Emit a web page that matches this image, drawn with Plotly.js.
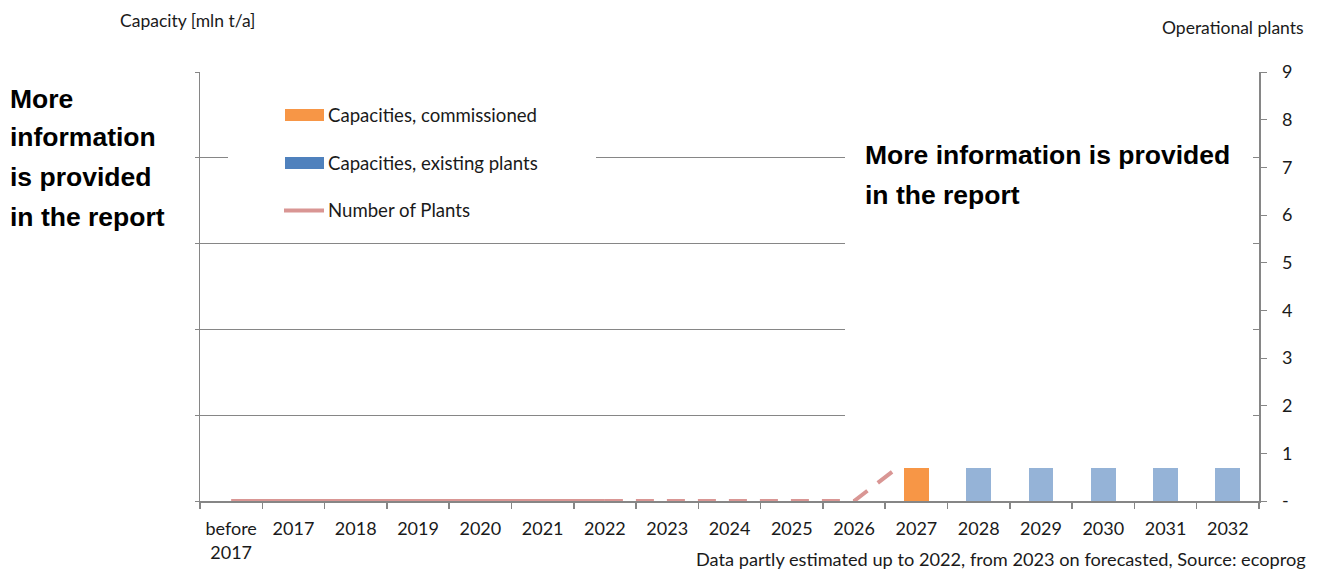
<!DOCTYPE html>
<html>
<head>
<meta charset="utf-8">
<script src="https://cdn.plot.ly/plotly-3.0.1.min.js"></script>
<style>
  html, body { margin: 0; padding: 0; background: #ffffff; }
  #chart { width: 1324px; height: 571px; }
</style>
</head>
<body>
<div id="chart"></div>
<script>
// ---------- data ----------
const categories = ["before<br>2017", "2017", "2018", "2019", "2020", "2021", "2022", "2023", "2024", "2025", "2026", "2027", "2028", "2029", "2030", "2031", "2032"];
const capCommissioned = [null, null, null, null, null, null, null, null, null, null, null, 0.39, null, null, null, null, null];
const capExisting     = [null, null, null, null, null, null, null, null, null, null, null, null, 0.39, 0.39, 0.39, 0.39, 0.39];
const numPlants       = [0, 0, 0, 0, 0, 0, 0, 0, 0, 0, 0, 1, 1, 1, 1, 1, 1];
const lastEstimatedIdx = 6; // 2022
const seriesNames = ["Capacities, commissioned", "Capacities, existing plants", "Number of Plants"];
const rightTickVals = [0, 1, 2, 3, 4, 5, 6, 7, 8, 9];
const rightTickText = ["-", "1", "2", "3", "4", "5", "6", "7", "8", "9"];
const leftAxisTitle = "Capacity [mln t/a]";
const rightAxisTitle = "Operational plants";
const sourceNote = "Data partly estimated up to 2022, from 2023 on forecasted, Source: ecoprog";

// ---------- styles ----------
const W = 1324, H = 571;
const plotL = 200, plotR = 1259, plotT = 72, plotB = 501;
const colOrange = "#F79646";
const colBlueBar = "#95B3D7";
const colBlueLegend = "#4F81BD";
const colLine = "#D99694";
const axisGray = "#868686";
const txt = "#1a1a1a";
const calFont = "Lato, 'Open Sans', sans-serif";
const boldFont = "'Liberation Sans', Arial, sans-serif";

function px(x) { return (x - plotL) / (plotR - plotL); }
function py(y) { return (plotB - y) / (plotB - plotT); }

const histLine = numPlants.map((v, i) => i <= lastEstimatedIdx ? v : null);
const fcLine = numPlants.map((v, i) => i >= lastEstimatedIdx ? v : null);

const traces = [
  { type: "bar", x: categories, y: capCommissioned, name: seriesNames[0],
    marker: { color: colOrange }, yaxis: "y", showlegend: false, hoverinfo: "skip" },
  { type: "bar", x: categories, y: capExisting, name: seriesNames[1],
    marker: { color: colBlueBar }, yaxis: "y", showlegend: false, hoverinfo: "skip" },
  { type: "scatter", mode: "lines", x: categories, y: histLine, name: seriesNames[2],
    line: { color: colLine, width: 4 }, yaxis: "y2", showlegend: false, connectgaps: false, hoverinfo: "skip" },
  { type: "scatter", mode: "lines", x: categories, y: fcLine, name: seriesNames[2] + " (forecast)",
    line: { color: colLine, width: 4, dash: "18px,13px" }, yaxis: "y2", showlegend: false, connectgaps: false, hoverinfo: "skip" }
];

const shapes = [
  // mask behind right info text
  { type: "rect", xref: "paper", yref: "paper", layer: "above",
    x0: px(845), x1: px(1253), y0: py(467), y1: py(140),
    fillcolor: "#ffffff", line: { width: 0 } },
  // mask behind legend
  { type: "rect", xref: "paper", yref: "paper", layer: "above",
    x0: px(228), x1: px(596), y0: py(232), y1: py(95),
    fillcolor: "#ffffff", line: { width: 0 } },
  // legend symbols
  { type: "rect", xref: "paper", yref: "paper", layer: "above",
    x0: px(285), x1: px(324), y0: py(121), y1: py(109),
    fillcolor: colOrange, line: { width: 0 } },
  { type: "rect", xref: "paper", yref: "paper", layer: "above",
    x0: px(285), x1: px(324), y0: py(169), y1: py(157),
    fillcolor: colBlueLegend, line: { width: 0 } },
  { type: "line", xref: "paper", yref: "paper", layer: "above",
    x0: px(284), x1: px(324), y0: py(210.5), y1: py(210.5),
    line: { color: colLine, width: 4 } }
];

const ann = [];
function addText(text, x, y, xanchor, size, family, color) {
  ann.push({ text: text, xref: "paper", yref: "paper", x: px(x), y: py(y),
    xanchor: xanchor, yanchor: "middle", showarrow: false,
    font: { family: family, size: size, color: color } });
}
// legend labels
addText(seriesNames[0], 326, 115, "left", 18.6, calFont, txt);
addText(seriesNames[1], 326, 163, "left", 18.6, calFont, txt);
addText(seriesNames[2], 326, 210, "left", 18.6, calFont, txt);
// axis titles and source
addText(leftAxisTitle, 118, 21, "left", 17.5, calFont, txt);
addText(rightAxisTitle, 1306, 27, "right", 17.5, calFont, txt);
addText(sourceNote, 1308, 559, "right", 18.2, calFont, txt);
// info texts
const leftLines = ["More", "information", "is provided", "in the report"];
const leftYs = [99, 137, 177, 217];
leftLines.forEach((t, i) => addText("<b>" + t + "</b>", 8, leftYs[i], "left", 26.5, boldFont, "#000"));
const rightLines = ["More information is provided", "in the report"];
const rightYs = [155, 195];
rightLines.forEach((t, i) => addText("<b>" + t + "</b>", 863, rightYs[i], "left", 26.5, boldFont, "#000"));

const layout = {
  width: W, height: H,
  margin: { l: plotL, r: W - plotR, t: plotT, b: H - plotB, pad: 0 },
  paper_bgcolor: "#ffffff", plot_bgcolor: "#ffffff",
  barmode: "stack", bargap: 0.6,
  showlegend: false,
  font: { family: calFont, size: 18, color: txt },
  xaxis: {
    type: "category", categoryorder: "array", categoryarray: categories,
    showline: true, linecolor: axisGray, linewidth: 1.5, mirror: false,
    ticks: "outside", tickson: "boundaries", ticklen: 6, tickcolor: axisGray, tickwidth: 1.5,
    ticklabelstandoff: 11,
    showgrid: false, zeroline: false, fixedrange: true,
    tickfont: { family: calFont, size: 18, color: txt }
  },
  yaxis: {
    range: [0, 5], dtick: 1, tick0: 0,
    showticklabels: false, showgrid: true, gridcolor: axisGray, gridwidth: 1,
    showline: true, linecolor: axisGray, linewidth: 1.5,
    ticks: "outside", ticklen: 4, tickcolor: axisGray,
    zeroline: false, fixedrange: true
  },
  yaxis2: {
    overlaying: "y", side: "right", range: [0, 9],
    tickmode: "array", tickvals: rightTickVals, ticktext: rightTickText,
    showgrid: false, zeroline: false,
    showline: true, linecolor: axisGray, linewidth: 1.5,
    ticks: "outside", ticklen: 6, tickcolor: axisGray,
    ticklabelstandoff: 12,
    tickfont: { family: calFont, size: 18, color: txt }, fixedrange: true
  },
  shapes: shapes,
  annotations: ann
};

Plotly.newPlot("chart", traces, layout, { displayModeBar: false, staticPlot: true });
</script>
</body>
</html>
